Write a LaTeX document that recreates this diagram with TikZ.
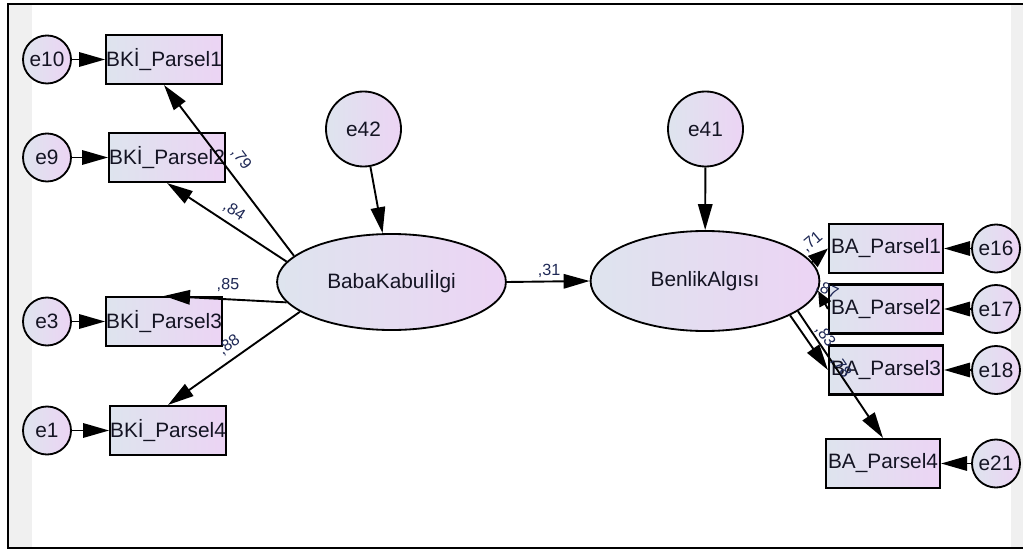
\documentclass[tikz,border=0pt]{standalone}
\usepackage{fontspec}
\setmainfont{Liberation Sans}
\usetikzlibrary{positioning}
\usetikzlibrary{arrows.meta}
\usetikzlibrary{shapes.geometric}

\definecolor{shadeL}{RGB}{222,228,238}
\definecolor{shadeR}{RGB}{236,212,244}
\definecolor{inkc}{RGB}{20,20,35}
\definecolor{coefc}{RGB}{30,40,85}
\definecolor{stripc}{RGB}{240,240,240}

\tikzset{
    obsbox/.style={draw, rectangle, line width=1.5pt, minimum width=2.85cm, minimum height=1.225cm, inner sep=0pt, left color=shadeL, right color=shadeR, text=inkc, font=\fontsize{14.8}{16}\selectfont},
    errcirc/.style={draw, circle, line width=1.3pt, minimum size=1.2cm, inner sep=0pt, left color=shadeL, right color=shadeR, text=inkc, font=\fontsize{14.8}{16}\selectfont},
    latent/.style={draw, ellipse, line width=1.3pt, minimum width=5.72cm, minimum height=2.4cm, inner sep=0pt, left color=shadeL, right color=shadeR, text=inkc, font=\fontsize{14.8}{16}\selectfont},
    load/.style={-{Triangle[length=0.65cm,width=0.36cm]}, line width=1.35pt},
    coef/.style={text=coefc, inner sep=0pt, font=\fontsize{11.5}{13}\selectfont}
}

\begin{document}
\begin{tikzpicture}[x=0.025cm, y=-0.025cm]
    \useasboundingbox (0,0) rectangle (1023,550);

    % Grey side strips and frame
    \fill[stripc] (9,5) rectangle (32,547);
    \fill[stripc] (1011,5) rectangle (1023,547);
    \draw[line width=1.6pt] (1023,4) -- (8,4) -- (8,548) -- (1023,548);

    % Latent variables
    \node[latent] (baba) at (391.5,282) {BabaKabulİlgi};
    \node[latent, minimum height=2.5cm] (benlik) at (705,281) {BenlikAlgısı};

    % Disturbances
    \node[errcirc, minimum size=1.875cm] (e42) at (363.5,129) {e42};
    \node[errcirc, minimum size=1.875cm] (e41) at (705.5,129) {e41};

    % Indicators of BabaKabulİlgi with their errors
    \foreach \i/\e/\xb/\y in {1/e10/164/59.5, 2/e9/167/157.5, 3/e3/164/321.5, 4/e1/168/430.5} {
        \node[obsbox] (bki\i) at (\xb,\y) {BKİ\_Parsel\i};
        \node[errcirc] (\e) at (47,\y) {\e};
        \draw[load] (\e) -- (bki\i);
    }

    % Indicators of BenlikAlgısı with their errors
    \foreach \i/\e/\xb/\y in {1/e16/886/248.5, 2/e17/886/309, 3/e18/886/370, 4/e21/883/463.5} {
        \node[obsbox] (ba\i) at (\xb,\y) {BA\_Parsel\i};
        \node[errcirc] (\e) at (996,\y) {\e};
        \draw[load] (\e) -- (ba\i);
    }

    % Structural paths
    \draw[load] (e42) -- (baba);
    \draw[load] (e41) -- (benlik);
    \draw[load] (baba.east) -- (benlik.west);

    % Loadings
    \draw[load] (baba.165) -- (bki1.south);
    \draw[load] (baba.169) -- (bki2.south);
    \draw[load] (baba.191) -- (bki3.north);
    \draw[load] (baba.198) -- (bki4.north);
    \draw[load, -{Triangle[length=0.5cm,width=0.36cm]}] (benlik.10) -- (ba1.west);
    \draw[load, -{Triangle[length=0.38cm,width=0.32cm]}] (ba2.west) -- (benlik.355);
    \draw[load] (benlik.338) -- (ba3.west);
    \draw[load] (benlik.342) -- (ba4.north);

    % Coefficients
    \node[coef, rotate=-53] (c79) at (241,159) {,79};
    \node[coef, rotate=-33] (c84) at (234,211) {,84};
    \node[coef, rotate=-2] (c85) at (228,285) {,85};
    \node[coef, rotate=36] (c88) at (229,345) {,88};
    \node[coef] (c31) at (549,271) {,31};
    \node[coef, rotate=40] (c71) at (812,242) {,71};
    \node[coef, rotate=-25] (c87) at (827,290) {,87};
    \node[coef, rotate=-55] (c83) at (825,336) {,83};
    \node[coef, rotate=-55] (c78) at (841,367) {,78};

\end{tikzpicture}
\end{document}
